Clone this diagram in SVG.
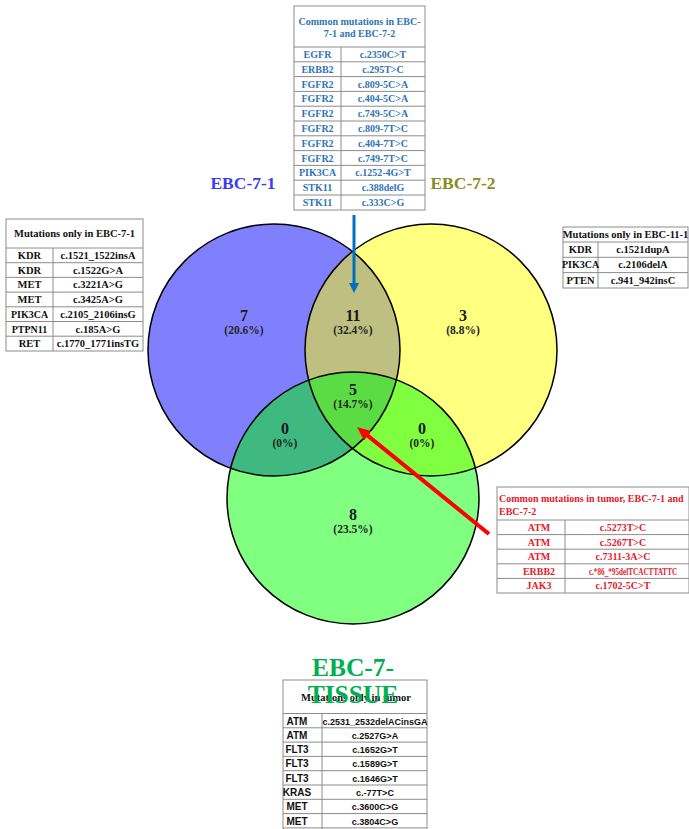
<svg xmlns="http://www.w3.org/2000/svg" width="689" height="829" viewBox="0 0 689 829">
<style>
.bg{fill:#fff}
.tb{fill:#fff;stroke:#8c8c8c;stroke-width:1}
.tl{stroke:#8c8c8c;stroke-width:1}
.ser{font-family:"Liberation Serif","Times New Roman",serif;font-weight:bold;text-anchor:middle}
.sans{font-family:"Liberation Sans",Arial,sans-serif;font-weight:bold;text-anchor:middle}
.t105{font-size:10.5px}
.t10{font-size:10px}
.t9{font-size:9px}
.blue{fill:#2F75B5}
.red{fill:#E3202A}
.blk{fill:#111}
.num{font-family:"Liberation Serif","Times New Roman",serif;font-weight:bold;text-anchor:middle;fill:#1a1a1a;font-size:16px}
.pct{font-family:"Liberation Serif","Times New Roman",serif;font-weight:bold;text-anchor:middle;fill:#262626;font-size:11.5px}
.outline{fill:none;stroke:#000;stroke-width:1.5}
</style>
<defs>
<clipPath id="clipA"><circle cx="274" cy="350" r="126"/></clipPath>
<clipPath id="clipB"><circle cx="431" cy="350" r="126"/></clipPath>
<marker id="arrBlue" markerUnits="userSpaceOnUse" markerWidth="10" markerHeight="10" refX="2" refY="5" orient="auto"><path d="M0,0 L10,5 L0,10 z" fill="#0070C0"/></marker>
<marker id="arrRed" markerUnits="userSpaceOnUse" markerWidth="14" markerHeight="12" refX="3" refY="6" orient="auto"><path d="M0,0 L14,6 L0,12 z" fill="#FF0000"/></marker>
</defs>
<rect class="bg" x="0" y="0" width="689" height="829"/>

<g id="venn">
<circle cx="274" cy="350" r="126" fill="#8080FF"/>
<circle cx="431" cy="350" r="126" fill="#FFFF80"/>
<circle cx="353" cy="498" r="126" fill="#80FF80"/>
<circle cx="431" cy="350" r="126" fill="#BFBF82" clip-path="url(#clipA)"/>
<circle cx="353" cy="498" r="126" fill="#3FB97F" clip-path="url(#clipA)"/>
<circle cx="353" cy="498" r="126" fill="#80FF40" clip-path="url(#clipB)"/>
<g clip-path="url(#clipA)"><circle cx="353" cy="498" r="126" fill="#5CDC44" clip-path="url(#clipB)"/></g>
<circle class="outline" cx="274" cy="350" r="126"/>
<circle class="outline" cx="431" cy="350" r="126"/>
<circle class="outline" cx="353" cy="498" r="126"/>
</g>

<g id="set-labels">
<text x="243" y="189" font-family="Liberation Serif, serif" font-weight="bold" font-size="17.5" text-anchor="middle" fill="#3B3BF7">EBC-7-1</text>
<text x="463" y="189" font-family="Liberation Serif, serif" font-weight="bold" font-size="17.5" text-anchor="middle" fill="#8A8A22">EBC-7-2</text>
</g>

<g id="region-counts">
<text class="num" x="244" y="321">7</text><text class="pct" x="244" y="334">(20.6%)</text>
<text class="num" x="353" y="321">11</text><text class="pct" x="353" y="334">(32.4%)</text>
<text class="num" x="463" y="321">3</text><text class="pct" x="463" y="334">(8.8%)</text>
<text class="num" x="353" y="395">5</text><text class="pct" x="353" y="408">(14.7%)</text>
<text class="num" x="285" y="434">0</text><text class="pct" x="285" y="447">(0%)</text>
<text class="num" x="422" y="434">0</text><text class="pct" x="422" y="447">(0%)</text>
<text class="num" x="353" y="520">8</text><text class="pct" x="353" y="533">(23.5%)</text>
</g>

<g id="table-common-7-1-7-2">
<rect class="tb" x="294" y="6" width="131" height="204"/>
<line class="tl" x1="294" y1="47" x2="425" y2="47"/>
<line class="tl" x1="341" y1="47" x2="341" y2="210"/>
<g class="tl">
<line x1="294" y1="61.8" x2="425" y2="61.8"/><line x1="294" y1="76.6" x2="425" y2="76.6"/><line x1="294" y1="91.4" x2="425" y2="91.4"/><line x1="294" y1="106.2" x2="425" y2="106.2"/><line x1="294" y1="121" x2="425" y2="121"/><line x1="294" y1="135.8" x2="425" y2="135.8"/><line x1="294" y1="150.6" x2="425" y2="150.6"/><line x1="294" y1="165.4" x2="425" y2="165.4"/><line x1="294" y1="180.2" x2="425" y2="180.2"/><line x1="294" y1="195" x2="425" y2="195"/>
</g>
<g class="ser t10 blue">
<text x="359.5" y="25">Common mutations  in EBC-</text>
<text x="359.5" y="37">7-1 and EBC-7-2</text>
<text x="317.5" y="58">EGFR</text><text x="383" y="58">c.2350C&gt;T</text>
<text x="317.5" y="72.8">ERBB2</text><text x="383" y="72.8">c.295T&gt;C</text>
<text x="317.5" y="87.6">FGFR2</text><text x="383" y="87.6">c.809-5C&gt;A</text>
<text x="317.5" y="102.4">FGFR2</text><text x="383" y="102.4">c.404-5C&gt;A</text>
<text x="317.5" y="117.2">FGFR2</text><text x="383" y="117.2">c.749-5C&gt;A</text>
<text x="317.5" y="132">FGFR2</text><text x="383" y="132">c.809-7T&gt;C</text>
<text x="317.5" y="146.8">FGFR2</text><text x="383" y="146.8">c.404-7T&gt;C</text>
<text x="317.5" y="161.6">FGFR2</text><text x="383" y="161.6">c.749-7T&gt;C</text>
<text x="317.5" y="176.4">PIK3CA</text><text x="383" y="176.4">c.1252-4G&gt;T</text>
<text x="317.5" y="191.2">STK11</text><text x="383" y="191.2">c.388delG</text>
<text x="317.5" y="206">STK11</text><text x="383" y="206">c.333C&gt;G</text>
</g>
</g>

<g id="table-only-7-1">
<rect class="tb" x="6" y="219" width="137" height="132"/>
<line class="tl" x1="6" y1="248" x2="143" y2="248"/>
<line class="tl" x1="53" y1="248" x2="53" y2="351"/>
<g class="tl">
<line x1="6" y1="262.7" x2="143" y2="262.7"/><line x1="6" y1="277.4" x2="143" y2="277.4"/><line x1="6" y1="292.1" x2="143" y2="292.1"/><line x1="6" y1="306.8" x2="143" y2="306.8"/><line x1="6" y1="321.5" x2="143" y2="321.5"/><line x1="6" y1="336.2" x2="143" y2="336.2"/>
</g>
<g class="ser t105 blk">
<text x="74.5" y="237">Mutations only in EBC-7-1</text>
<text x="29.5" y="259">KDR</text><text x="98" y="259">c.1521_1522insA</text>
<text x="29.5" y="273.7">KDR</text><text x="98" y="273.7">c.1522G&gt;A</text>
<text x="29.5" y="288.4">MET</text><text x="98" y="288.4">c.3221A&gt;G</text>
<text x="29.5" y="303.1">MET</text><text x="98" y="303.1">c.3425A&gt;G</text>
<text x="29.5" y="317.8" font-size="10">PIK3CA</text><text x="98" y="317.8">c.2105_2106insG</text>
<text x="29.5" y="332.5" font-size="10">PTPN11</text><text x="98" y="332.5">c.185A&gt;G</text>
<text x="29.5" y="347.2">RET</text><text x="98" y="347.2">c.1770_1771insTG</text>
</g>
</g>

<g id="table-only-11-1">
<rect class="tb" x="563" y="227" width="125" height="61"/>
<line class="tl" x1="563" y1="242" x2="688" y2="242"/>
<line class="tl" x1="598" y1="242" x2="598" y2="288"/>
<line class="tl" x1="563" y1="257.3" x2="688" y2="257.3"/>
<line class="tl" x1="563" y1="272.6" x2="688" y2="272.6"/>
<g class="ser t105 blk">
<text x="625.5" y="238">Mutations only in EBC-11-1</text>
<text x="580.5" y="253">KDR</text><text x="643" y="253">c.1521dupA</text>
<text x="580.5" y="268.3" font-size="10">PIK3CA</text><text x="643" y="268.3">c.2106delA</text>
<text x="580.5" y="283.6">PTEN</text><text x="643" y="283.6">c.941_942insC</text>
</g>
</g>

<g id="table-common-all">
<rect class="tb" x="497" y="487" width="192" height="106"/>
<line class="tl" x1="497" y1="520" x2="689" y2="520"/>
<line class="tl" x1="565" y1="520" x2="565" y2="593"/>
<line class="tl" x1="497" y1="534.6" x2="689" y2="534.6"/>
<line class="tl" x1="497" y1="549.2" x2="689" y2="549.2"/>
<line class="tl" x1="497" y1="563.8" x2="689" y2="563.8"/>
<line class="tl" x1="497" y1="578.4" x2="689" y2="578.4"/>
<g class="ser t10 red">
<text x="499" y="502" text-anchor="start">Common mutations in tumor, EBC-7-1 and</text>
<text x="499" y="515" text-anchor="start">EBC-7-2</text>
<text x="539" y="531">ATM</text><text x="623" y="531">c.5273T&gt;C</text>
<text x="539" y="545.6">ATM</text><text x="623" y="545.6">c.5267T&gt;C</text>
<text x="539" y="560.2">ATM</text><text x="623" y="560.2">c.7311-3A&gt;C</text>
<text x="539" y="574.8">ERBB2</text><text x="0" y="0" transform="translate(633,574.8) scale(0.72,1)">c.*86_*95delTCACTTATTC</text>
<text x="539" y="589.4">JAK3</text><text x="623" y="589.4">c.1702-5C&gt;T</text>
</g>
</g>

<g id="table-only-tumor">
<rect class="tb" x="283" y="680" width="144" height="152"/>
<line class="tl" x1="283" y1="713.5" x2="427" y2="713.5"/>
<line class="tl" x1="322" y1="713.5" x2="322" y2="829"/>
<g class="tl">
<line x1="283" y1="727.8" x2="427" y2="727.8"/><line x1="283" y1="742.1" x2="427" y2="742.1"/><line x1="283" y1="756.4" x2="427" y2="756.4"/><line x1="283" y1="770.7" x2="427" y2="770.7"/><line x1="283" y1="785" x2="427" y2="785"/><line x1="283" y1="799.3" x2="427" y2="799.3"/><line x1="283" y1="813.6" x2="427" y2="813.6"/><line x1="283" y1="827.9" x2="427" y2="827.9"/>
</g>
<text class="ser t105 blk" x="356" y="701">Mutations only in tumor</text>
<g class="sans blk">
<text class="t10" x="297" y="724.5">ATM</text><text class="t9" x="375" y="724.5">c.2531_2532delACinsGA</text>
<text class="t10" x="297" y="738.8">ATM</text><text class="t9" x="375" y="738.8">c.2527G&gt;A</text>
<text class="t10" x="297" y="753.1">FLT3</text><text class="t9" x="375" y="753.1">c.1652G&gt;T</text>
<text class="t10" x="297" y="767.4">FLT3</text><text class="t9" x="375" y="767.4">c.1589G&gt;T</text>
<text class="t10" x="297" y="781.7">FLT3</text><text class="t9" x="375" y="781.7">c.1646G&gt;T</text>
<text class="t10" x="297" y="796">KRAS</text><text class="t9" x="375" y="796">c.-77T&gt;C</text>
<text class="t10" x="297" y="810.3">MET</text><text class="t9" x="375" y="810.3">c.3600C&gt;G</text>
<text class="t10" x="297" y="824.6">MET</text><text class="t9" x="375" y="824.6">c.3804C&gt;G</text>
</g>
</g>

<g id="tissue-label">
<text x="353" y="676" font-family="Liberation Serif, serif" font-weight="bold" font-size="25.5" text-anchor="middle" fill="#00B050">EBC-7-</text>
<text x="353" y="703" font-family="Liberation Serif, serif" font-weight="bold" font-size="25.5" text-anchor="middle" fill="#00B050">TISSUE</text>
</g>

<g id="connectors">
<line x1="354" y1="215" x2="354" y2="285" stroke="#0070C0" stroke-width="3" marker-end="url(#arrBlue)"/>
<line x1="489" y1="534" x2="365.5" y2="433.9" stroke="#FF0000" stroke-width="4" marker-end="url(#arrRed)"/>
</g>
</svg>
